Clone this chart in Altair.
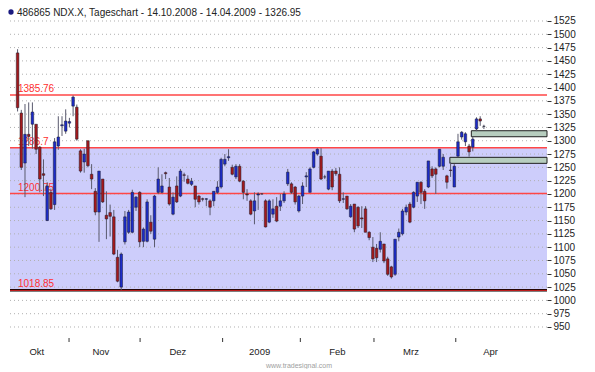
import altair as alt
import pandas as pd

# ---- OHLC data (trading-day index 1..N) ----
opens = [1465, 1352, 1258, 1312, 1331, 1331, 1288, 1238, 1150, 1203, 1180, 1290, 1328, 1318,
         1333, 1365, 1363, 1281, 1260, 1300, 1237, 1205, 1166, 1228, 1160, 1165, 1157, 1081,
         1025, 1110, 1128, 1128, 1175, 1203, 1111, 1111, 1147, 1115, 1203, 1203, 1240, 1213,
         1162, 1215, 1196, 1236, 1228, 1218, 1215, 1196, 1191, 1190, 1187, 1187, 1203, 1213,
         1256, 1268, 1250, 1232, 1252, 1224, 1200, 1187, 1168, 1198, 1200, 1187, 1147, 1162,
         1177, 1177, 1187, 1219, 1219, 1213, 1168, 1196, 1232, 1203, 1250, 1275, 1271, 1232,
         1209, 1243, 1243, 1237, 1190, 1196, 1157, 1181, 1175, 1155, 1172, 1128, 1100, 1098,
         1096, 1106, 1078, 1063, 1049, 1119, 1125, 1166, 1181, 1175, 1196, 1222, 1205, 1213,
         1247, 1247, 1252, 1252, 1234, 1245, 1213, 1271, 1307, 1298, 1290, 1288, 1322, 1341,
         1327]
highs = [1472, 1358, 1369, 1372, 1372, 1331, 1290, 1265, 1222, 1210, 1305, 1346, 1346, 1359,
         1343, 1385, 1368, 1284, 1285, 1300, 1256, 1211, 1243, 1228, 1205, 1180, 1170, 1095,
         1090, 1168, 1170, 1208, 1196, 1205, 1137, 1190, 1160, 1198, 1250, 1237, 1242, 1230,
         1203, 1233, 1247, 1240, 1235, 1230, 1215, 1198, 1193, 1192, 1190, 1205, 1224, 1268,
         1275, 1284, 1255, 1256, 1256, 1226, 1209, 1190, 1203, 1203, 1201, 1190, 1190, 1190,
         1194, 1200, 1205, 1247, 1222, 1215, 1198, 1222, 1241, 1250, 1281, 1286, 1286, 1236,
         1243, 1247, 1249, 1250, 1203, 1196, 1181, 1181, 1177, 1177, 1177, 1130, 1119, 1106,
         1128, 1106, 1082, 1065, 1115, 1135, 1172, 1180, 1185, 1205, 1222, 1224, 1209, 1262,
         1252, 1250, 1284, 1275, 1236, 1260, 1256, 1313, 1318, 1316, 1294, 1307, 1344, 1346,
         1330]
lows = [1355, 1245, 1194, 1290, 1285, 1275, 1203, 1196, 1149, 1170, 1170, 1283, 1309, 1313,
        1325, 1346, 1300, 1240, 1240, 1250, 1209, 1160, 1110, 1183, 1115, 1120, 1085, 1034,
        1019, 1105, 1125, 1126, 1168, 1100, 1100, 1109, 1125, 1100, 1200, 1201, 1228, 1178,
        1160, 1183, 1194, 1223, 1218, 1215, 1175, 1180, 1186, 1177, 1160, 1177, 1200, 1210,
        1252, 1262, 1235, 1228, 1222, 1190, 1187, 1160, 1143, 1170, 1199, 1137, 1145, 1155,
        1147, 1168, 1183, 1215, 1200, 1180, 1165, 1181, 1213, 1203, 1248, 1272, 1226, 1228,
        1207, 1207, 1234, 1183, 1183, 1170, 1155, 1128, 1136, 1136, 1128, 1113, 1072, 1072,
        1090, 1070, 1046, 1041, 1046, 1111, 1122, 1160, 1145, 1173, 1185, 1181, 1172, 1211,
        1230, 1200, 1250, 1245, 1210, 1232, 1213, 1269, 1302, 1290, 1270, 1280, 1318, 1328,
        1322]
closes = [1362, 1250, 1312, 1308, 1354, 1284, 1228, 1235, 1215, 1172, 1298, 1307, 1330, 1337,
          1336, 1382, 1303, 1243, 1275, 1253, 1228, 1166, 1243, 1185, 1153, 1158, 1087, 1036,
          1087, 1157, 1166, 1203, 1194, 1110, 1134, 1185, 1130, 1196, 1228, 1215, 1238, 1181,
          1194, 1185, 1243, 1235, 1220, 1224, 1190, 1185, 1190, 1191, 1175, 1205, 1213, 1265,
          1265, 1270, 1237, 1252, 1224, 1203, 1198, 1162, 1187, 1200, 1200, 1138, 1187, 1172,
          1149, 1187, 1200, 1241, 1203, 1185, 1196, 1215, 1234, 1247, 1279, 1284, 1228, 1232,
          1243, 1213, 1238, 1187, 1191, 1172, 1177, 1134, 1140, 1153, 1128, 1118, 1078, 1080,
          1111, 1074, 1049, 1044, 1115, 1128, 1168, 1175, 1147, 1203, 1222, 1203, 1187, 1262,
          1234, 1237, 1284, 1269, 1222, 1244, 1252, 1298, 1316, 1313, 1279, 1303, 1341, 1337,
          1326.95]

# horizontal levels
level_values = [1385.76, 1286.7, 1200.75, 1018.85]
level_labels = ["1385.76", "1286.7", "1200.75", "1018.85"]
band_low = [1018.85]
band_high = [1286.7]

# gap boxes (start index, low, high)
gap_start = [117.8, 123.6]
gap_low = [1257.5, 1307.5]
gap_high = [1268.8, 1318.8]

# axis ticks / labels
y_ticks = [950, 975, 1000, 1025, 1050, 1075, 1100, 1125, 1150, 1175, 1200, 1225, 1250,
           1275, 1300, 1325, 1350, 1375, 1400, 1425, 1450, 1475, 1500, 1525]
month_tick_pos = [14.9, 34.1, 56.4, 77.4, 97.3, 119.4]
month_names = ["Okt", "Nov", "Dez", "2009", "Feb", "Mrz", "Apr"]
month_label_pos = [6.2, 23.5, 44.3, 66.4, 87.4, 107.3, 128.8]

title_text = ["486865  NDX.X, Tageschart - 14.10.2008 - 14.04.2009 - 1326.95"]
watermark = ["www.tradesignal.com"]

W, H = 537, 329
FONT = "Liberation Sans"

df = pd.DataFrame({"i": list(range(1, len(closes) + 1)), "open": opens, "high": highs,
                   "low": lows, "close": closes})
df["dir"] = ["up" if c >= o else "down" for o, c in zip(opens, closes)]

xs = alt.Scale(domain=[0.3, 142.7], nice=False, zero=False)
ys = alt.Scale(domain=[931.2, 1549.4], nice=False, zero=False)
yaxis = alt.Axis(orient="right", values=y_ticks, format="d", grid=False, domain=False,
                 tickSize=4, tickColor="#333333", labelPadding=2, labelFont=FONT,
                 labelFontSize=10, labelColor="#222222", title=None, labelFlush=False,
                 labelOverlap=False)


def Y(field):
    return alt.Y(field, scale=ys, axis=yaxis)


def X(field):
    return alt.X(field, scale=xs, axis=None)


band = alt.Chart(pd.DataFrame({"lo": band_low, "hi": band_high})).mark_rect(
    color="#cdcdfb").encode(x=alt.value(0), x2=alt.value(W), y=Y("lo:Q"), y2="hi:Q")

grid = alt.Chart(pd.DataFrame({"v": y_ticks})).mark_rule(
    color="#b0b0b0", strokeDash=[1, 3], strokeWidth=1).encode(
    x=alt.value(0), x2=alt.value(W), y=Y("v:Q"))

lev_df = pd.DataFrame({"v": level_values, "t": level_labels})
lev_red = alt.Chart(lev_df).transform_filter("datum.v > 1100").mark_rule(
    color="#ff4646", strokeWidth=1.5).encode(x=alt.value(0), x2=alt.value(W), y=Y("v:Q"))
lev_low_black = alt.Chart(lev_df).transform_filter("datum.v < 1100").mark_rule(
    color="#000000", strokeWidth=2.5).encode(x=alt.value(0), x2=alt.value(W), y=Y("v:Q"))
lev_low_red = alt.Chart(lev_df).transform_filter("datum.v < 1100").mark_rule(
    color="#e02020", strokeWidth=1).encode(x=alt.value(0), x2=alt.value(W), y=Y("v:Q"))
lev_text = alt.Chart(lev_df).mark_text(
    align="left", baseline="alphabetic", dy=-3, color="#ff3030", font=FONT, fontSize=10).encode(
    x=alt.value(8), y=Y("v:Q"), text="t:N")

gaps = alt.Chart(pd.DataFrame({"s": gap_start, "lo": gap_low, "hi": gap_high})).mark_rect(
    fill="#b7cebf", stroke="#202020", strokeWidth=1).encode(
    x=X("s:Q"), x2=alt.value(W), y=Y("lo:Q"), y2="hi:Q")

wicks = alt.Chart(df).mark_rule(color="#5a5a6e", strokeWidth=1).encode(
    x=X("i:Q"), y=Y("low:Q"), y2="high:Q")
bodies = alt.Chart(df).mark_bar(size=2.6, stroke="#1a1a2a", strokeWidth=0.5).encode(
    x=X("i:Q"), y=Y("open:Q"), y2="close:Q",
    color=alt.Color("dir:N", scale=alt.Scale(domain=["up", "down"],
                                             range=["#1d2cc8", "#a3191c"]), legend=None))

title_dot = alt.Chart(pd.DataFrame({"t": title_text})).mark_circle(
    color="#1a1a80", size=28, opacity=1).encode(x=alt.value(1), y=alt.value(4))
title = alt.Chart(pd.DataFrame({"t": title_text})).mark_text(
    align="left", baseline="middle", font=FONT, fontSize=10, color="#222222").encode(
    x=alt.value(7), y=alt.value(5), text="t:N")

mticks = alt.Chart(pd.DataFrame({"p": month_tick_pos})).mark_rule(
    color="#333333", strokeWidth=1).encode(x=X("p:Q"), y=alt.value(H + 1), y2=alt.value(H + 5))
mlabels = alt.Chart(pd.DataFrame({"p": month_label_pos, "m": month_names})).mark_text(
    baseline="middle", font=FONT, fontSize=9.5, color="#222222").encode(
    x=X("p:Q"), y=alt.value(H + 15), text="m:N")
wm = alt.Chart(pd.DataFrame({"t": watermark})).mark_text(
    baseline="middle", font=FONT, fontSize=7, color="#a0a0a0").encode(
    x=alt.value(289), y=alt.value(H + 29), text="t:N")

chart = alt.layer(band, grid, lev_red, lev_low_black, lev_low_red, lev_text, gaps, wicks,
                  bodies, title_dot, title, mticks, mlabels, wm).properties(
    width=W, height=H, padding=0, background="white").configure_view(stroke=None)

chart.save("out.html", embed_options={"renderer": "svg", "actions": False})
